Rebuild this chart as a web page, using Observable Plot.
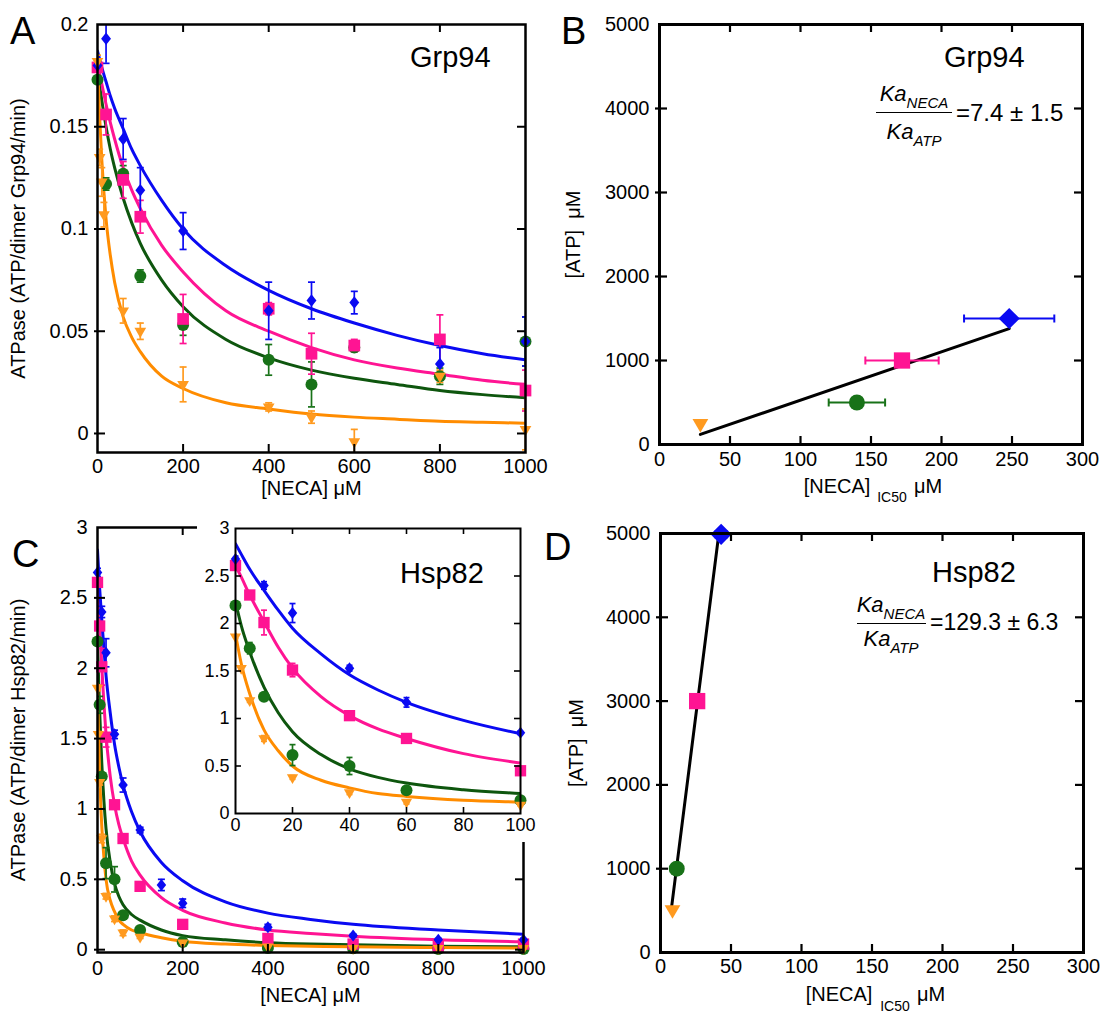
<!DOCTYPE html>
<html><head><meta charset="utf-8">
<script src="https://cdn.jsdelivr.net/npm/d3@7"></script>
<script src="https://cdn.jsdelivr.net/npm/@observablehq/plot@0.6"></script>
<style>
body{margin:0;background:#fff;}
#fig{position:relative;width:1102px;height:1018px;overflow:hidden;font-family:"Liberation Sans",Arial,Helvetica,sans-serif;color:#000;}
#fig svg{position:absolute;overflow:visible;}
.t{position:absolute;white-space:nowrap;line-height:1;}
.letter{font-size:38px;}
.ttl{font-size:29px;}
.fr{font-size:22px;text-align:center;font-style:italic;}
.fr span{font-size:15px;position:relative;top:7px;}
.fl{position:absolute;height:0;border-top:1.5px solid #000;}
.eq{font-size:24px;}
</style></head><body><div id="fig"></div>
<script>
// ---------- Panel A : Grp94 ATPase vs [NECA] ----------
const grpX = [0,20,60,100,200,400,500,600,800,1000];
const grpBlue = [0.180,0.193,0.144,0.119,0.099,0.060,0.065,0.064,0.034,0.045];
const grpBlueErr = [0.003,0.012,0.010,0.011,0.009,0.014,0.009,0.0055,0.008,0.012];
const grpPink = [0.179,0.156,0.124,0.106,0.056,0.061,0.039,0.043,0.046,0.021];
const grpPinkErr = [0.003,0.010,0.009,0.008,0.012,0.003,0.010,0.003,0.012,0.010];
const grpGreen = [0.173,0.122,0.127,0.077,0.053,0.036,0.024,0.042,0.028,0.045];
const grpGreenErr = [0.002,0.003,0.004,0.003,0.005,0.0075,0.011,0.002,0.004,0.012];
const grpOrangeX = [0,5,10,15,60,100,200,400,500,600,800,1000];
const grpOrange = [0.182,0.135,0.123,0.107,0.060,0.050,0.024,0.013,0.008,-0.004,0.028,0.002];
const grpOrangeErr = [0.003,0.004,0.007,0.006,0.006,0.004,0.0085,0.002,0.003,0.006,0.003,0.010];
const grpFitX = [0,5,10,20,30,40,60,80,100,150,200,300,400,500,600,700,800,900,1000];
const grpFitBlue = [0.187,0.183,0.179,0.172,0.165,0.159,0.149,0.139,0.131,0.114,0.100,0.082,0.070,0.061,0.054,0.048,0.043,0.039,0.036];
const grpFitPink = [0.182,0.176,0.171,0.161,0.152,0.144,0.130,0.119,0.110,0.092,0.079,0.060,0.050,0.042,0.036,0.032,0.029,0.026,0.024];
const grpFitGreen = [0.178,0.170,0.163,0.150,0.139,0.130,0.115,0.103,0.093,0.075,0.062,0.046,0.037,0.031,0.027,0.024,0.021,0.019,0.0175];
const grpFitOrange = [0.182,0.155,0.134,0.105,0.087,0.074,0.057,0.047,0.040,0.028,0.022,0.015,0.012,0.0095,0.008,0.007,0.006,0.0055,0.005];
const aXTicks = [0,200,400,600,800,1000];
const aYTicks = [0,0.05,0.1,0.15,0.2];

// ---------- Panel B : Grp94 [ATP] vs [NECA]IC50 ----------
const bNeca = [29,140,172,248];
const bAtp = [250,500,1000,1500];
const bNecaErr = [0,20,26,32];
const bFitNeca = [29,248];
const bFitAtp = [120,1380];

// ---------- Panel C : Hsp82 ATPase vs [NECA] ----------
const hspBlueX = [0,10,20,40,60,100,150,200,400,600,800,1000];
const hspBlue = [2.68,2.40,2.11,1.53,1.17,0.85,0.46,0.33,0.16,0.10,0.07,0.07];
const hspBlueErr = [0.03,0.04,0.10,0.03,0.05,0.02,0.04,0.03,0.02,0.01,0.01,0.01];
const hspX = [0,5,10,20,40,60,100,200,400,600,800,1000];
const hspPink = [2.61,2.30,2.01,1.51,1.03,0.79,0.45,0.18,0.08,0.04,0.025,0.04];
const hspPinkErr = [0.02,0.03,0.13,0.07,0.02,0.02,0.02,0.01,0.01,0.01,0.01,0.01];
const hspGreen = [2.19,1.74,1.23,0.615,0.50,0.245,0.14,0.055,0.012,0.01,0.005,0.005];
const hspGreenErr = [0.02,0.06,0.02,0.11,0.09,0.02,0.02,0.01,0.01,0.01,0.01,0.01];
const hspOrangeX = [0,2,5,10,20,40,60,100,200,400,600,800,1000];
const hspOrange = [1.86,1.53,1.19,0.79,0.38,0.22,0.12,0.09,0.05,0.02,0.01,0.01,0.01];
const hspOrangeErr = [0.02,0.02,0.02,0.03,0.02,0.02,0.02,0.01,0.01,0.01,0.01,0.01,0.01];
const hspFitX = [0,2,5,10,15,20,30,40,50,60,80,100,150,200,300,400,500,600,800,1000];
const hspFitBlue = [2.84,2.73,2.57,2.35,2.14,1.95,1.68,1.46,1.30,1.17,0.98,0.84,0.62,0.49,0.34,0.26,0.215,0.18,0.14,0.11];
const hspFitPink = [2.61,2.49,2.30,2.02,1.75,1.53,1.23,1.03,0.89,0.79,0.63,0.53,0.37,0.28,0.19,0.14,0.115,0.095,0.07,0.057];
const hspFitGreen = [2.23,1.98,1.70,1.33,1.06,0.86,0.62,0.47,0.38,0.32,0.25,0.21,0.14,0.10,0.07,0.05,0.04,0.035,0.025,0.02];
const hspFitOrange = [1.89,1.58,1.26,0.88,0.66,0.50,0.35,0.27,0.21,0.18,0.14,0.12,0.085,0.06,0.04,0.03,0.025,0.02,0.015,0.012];
const cXTicks = [0,200,400,600,800,1000];
const cYTicks = [0,0.5,1,1.5,2,2.5,3];
const insetXTicks = [0,20,40,60,80,100];

// ---------- Panel D : Hsp82 [ATP] vs [NECA]IC50 ----------
const dNeca = [8.5,11.5,26,43];
const dAtp = [510,1000,3000,4990];
const dNecaErr = [0,0,0,4];
const dFitNeca = [8,42];
const dFitAtp = [560,5080];
const bdXTicks = [0,50,100,150,200,250,300];
const bdYTicks = [0,1000,2000,3000,4000,5000];

// ---------- styling ----------
const FONT = '"Liberation Sans", Arial, Helvetica, sans-serif';
const BLUE = "#0a0af2", PINK = "#ff1493", GREEN = "#187218", GREENL = "#0e560e", ORANGE = "#ff9a1f", ORANGEL = "#ff8c00";

const downTri = {draw(c, s){const R=Math.sqrt(s/Math.PI)*1.3; c.moveTo(0,R); c.lineTo(R*0.866,-R*0.5); c.lineTo(-R*0.866,-R*0.5); c.closePath();}};
const rhomb = {draw(c, s){const a=Math.sqrt(s/Math.PI); c.moveTo(0,-a*1.2); c.lineTo(a*0.95,0); c.lineTo(0,a*1.2); c.lineTo(-a*0.95,0); c.closePath();}};
const hcap = {draw(c, s){const w=Math.sqrt(s/Math.PI); c.moveTo(-w,0); c.lineTo(w,0);}};
const vcap = {draw(c, s){const w=Math.sqrt(s/Math.PI); c.moveTo(0,-w); c.lineTo(0,w);}};

const rows = (xs, ys, es) => xs.map((x,i) => ({x, y: ys[i], e: es ? es[i] : 0}));
const pts = (xs, ys) => xs.map((x,i) => ({x, y: ys[i]}));
const fmt = d => String(d);

function frameTicks(xt, yt, xd, yd, iw, ih, len, out, sw) {
  const dx = len*(xd[1]-xd[0])/iw, dy = len*(yd[1]-yd[0])/ih, ox = out*(xd[1]-xd[0])/iw;
  const xi = xt.filter(v => v > xd[0] && v < xd[1]);
  const yi = yt.filter(v => v > yd[0] && v < yd[1]);
  const st = {stroke: "black", strokeWidth: sw};
  return [
    Plot.ruleX(xi, {x: d => d, y1: () => yd[0], y2: () => yd[0] + dy, ...st}),
    Plot.ruleX(xi, {x: d => d, y1: () => yd[1], y2: () => yd[1] - dy, ...st}),
    Plot.ruleY(yi, {y: d => d, x1: () => xd[0] - ox, x2: () => xd[0] + dx, ...st}),
    Plot.ruleY(yi, {y: d => d, x1: () => xd[1], x2: () => xd[1] - dx, ...st})
  ];
}

function curveMarks(series, sw) {
  return series.map(s => Plot.line(s.fit, {x: "x", y: "y", curve: "monotone-x", stroke: s.line, strokeWidth: sw, clip: true}));
}
function errMarks(series, cap, xmax) {
  const out = [];
  for (const s of series) {
    const p = s.pts.filter(d => d.e > 0 && d.x <= xmax);
    out.push(Plot.ruleX(p, {x: "x", y1: d => d.y - d.e, y2: d => d.y + d.e, stroke: s.color, strokeWidth: 1.7, clip: true}));
    out.push(Plot.dot(p, {x: "x", y: d => d.y + d.e, symbol: hcap, r: cap, stroke: s.color, strokeWidth: 1.7, clip: true}));
    out.push(Plot.dot(p, {x: "x", y: d => d.y - d.e, symbol: hcap, r: cap, stroke: s.color, strokeWidth: 1.7, clip: true}));
  }
  return out;
}
function dotMarks(series, xmax) {
  return series.map(s => Plot.dot(s.pts.filter(d => d.x <= xmax), {x: "x", y: "y", symbol: s.symbol, r: s.r, fill: s.color, stroke: "none"}));
}

const fig = document.getElementById("fig");
function place(svg, left, top, bg) {
  svg.style.left = left + "px"; svg.style.top = top + "px";
  if (bg) svg.style.background = bg;
  fig.appendChild(svg);
}
const baseStyle = {fontFamily: FONT, fontSize: "20px", color: "black", background: "none", overflow: "visible"};

// ===== Panel A =====
{
  const xd = [0,1000], yd = [-0.0093,0.2];
  const series = [
    {pts: rows(grpX, grpGreen, grpGreenErr), fit: pts(grpFitX, grpFitGreen), color: GREEN, line: GREENL, symbol: "circle", r: 6},
    {pts: rows(grpX, grpPink, grpPinkErr), fit: pts(grpFitX, grpFitPink), color: PINK, line: PINK, symbol: "square", r: 6.6},
    {pts: rows(grpX, grpBlue, grpBlueErr), fit: pts(grpFitX, grpFitBlue), color: BLUE, line: BLUE, symbol: rhomb, r: 5.2},
    {pts: rows(grpOrangeX, grpOrange, grpOrangeErr), fit: pts(grpFitX, grpFitOrange), color: ORANGE, line: ORANGEL, symbol: downTri, r: 5.2}
  ];
  const p = Plot.plot({
    width: 560, height: 500, marginLeft: 97, marginRight: 35, marginTop: 24, marginBottom: 48,
    x: {domain: xd}, y: {domain: yd}, style: baseStyle,
    marks: [
      ...curveMarks(series, 3),
      ...errMarks(series, 3.5, 1000),
      ...dotMarks(series, 1000),
      Plot.frame({stroke: "black", strokeWidth: 2.5}),
      ...frameTicks(aXTicks, aYTicks, xd, yd, 428, 428, 8, 3, 2),
      Plot.axisX({ticks: aXTicks, tickSize: 0, tickPadding: 6, tickFormat: fmt, fontSize: 20, label: null}),
      Plot.axisY({ticks: aYTicks, tickSize: 0, tickPadding: 9, tickFormat: fmt, fontSize: 20, label: null}),
      Plot.text(["[NECA] μM"], {frameAnchor: "bottom", dy: 42, fontSize: 20}),
      Plot.text(["ATPase (ATP/dimer Grp94/min)"], {frameAnchor: "left", textAnchor: "middle", dx: -79, rotate: -90, fontSize: 20})
    ]
  });
  place(p, 0, 0);
}

// ===== Panel B =====
{
  const xd = [0,300], yd = [0,5000];
  const pr = rows(bNeca, bAtp, bNecaErr).map((d,i) => ({...d, c: [ORANGE, GREEN, PINK, BLUE][i]}));
  const errs = pr.filter(d => d.e > 0);
  const p = Plot.plot({
    width: 542, height: 510, marginLeft: 99, marginRight: 20, marginTop: 24, marginBottom: 66,
    x: {domain: xd}, y: {domain: yd}, style: baseStyle,
    marks: [
      Plot.line(pts(bFitNeca, bFitAtp), {x: "x", y: "y", stroke: "black", strokeWidth: 3, clip: true}),
      Plot.ruleY(errs, {y: "y", x1: d => d.x - d.e, x2: d => d.x + d.e, stroke: d => d.c, strokeWidth: 2}),
      Plot.dot(errs, {x: d => d.x - d.e, y: "y", symbol: vcap, r: 4, stroke: d => d.c, strokeWidth: 2}),
      Plot.dot(errs, {x: d => d.x + d.e, y: "y", symbol: vcap, r: 4, stroke: d => d.c, strokeWidth: 2}),
      Plot.dot([pr[0]], {x: "x", y: "y", symbol: downTri, r: 7, fill: ORANGE}),
      Plot.dot([pr[1]], {x: "x", y: "y", symbol: "circle", r: 8, fill: GREEN}),
      Plot.dot([pr[2]], {x: "x", y: "y", symbol: "square", r: 9.2, fill: PINK}),
      Plot.dot([pr[3]], {x: "x", y: "y", symbol: "diamond2", r: 9.5, fill: BLUE}),
      Plot.frame({stroke: "black", strokeWidth: 3}),
      ...frameTicks(bdXTicks, bdYTicks, xd, yd, 423, 420, 8, 4, 2.2),
      Plot.axisX({ticks: bdXTicks, tickSize: 0, tickPadding: 7, tickFormat: fmt, fontSize: 20, label: null}),
      Plot.axisY({ticks: bdYTicks, tickSize: 0, tickPadding: 10, tickFormat: fmt, fontSize: 20, label: null}),
      Plot.text(["[NECA]"], {frameAnchor: "bottom", dx: -34, dy: 48, fontSize: 20}),
      Plot.text(["IC50"], {frameAnchor: "bottom", dx: 21, dy: 57, fontSize: 14}),
      Plot.text(["μM"], {frameAnchor: "bottom", dx: 57, dy: 48, fontSize: 20}),
      Plot.text(["[ATP]  μM"], {frameAnchor: "left", textAnchor: "middle", dx: -86, rotate: -90, fontSize: 20})
    ]
  });
  place(p, 560, 0);
}

// ===== Panel C =====
const hspSeries = [
  {pts: rows(hspX, hspGreen, hspGreenErr), fit: pts(hspFitX, hspFitGreen), color: GREEN, line: GREENL, symbol: "circle", r: 6},
  {pts: rows(hspX, hspPink, hspPinkErr), fit: pts(hspFitX, hspFitPink), color: PINK, line: PINK, symbol: "square", r: 6.4},
  {pts: rows(hspBlueX, hspBlue, hspBlueErr), fit: pts(hspFitX, hspFitBlue), color: BLUE, line: BLUE, symbol: rhomb, r: 5},
  {pts: rows(hspOrangeX, hspOrange, hspOrangeErr), fit: pts(hspFitX, hspFitOrange), color: ORANGE, line: ORANGEL, symbol: downTri, r: 5}
];
{
  const xd = [0,1000], yd = [-0.02,3];
  const p = Plot.plot({
    width: 560, height: 518, marginLeft: 97, marginRight: 37, marginTop: 27, marginBottom: 66,
    x: {domain: xd}, y: {domain: yd}, style: baseStyle,
    marks: [
      ...curveMarks(hspSeries, 3),
      ...errMarks(hspSeries, 3.5, 1000),
      ...dotMarks(hspSeries, 1000),
      Plot.frame({stroke: "black", strokeWidth: 2.5}),
      ...frameTicks(cXTicks, cYTicks, xd, yd, 426, 425, 8, 3, 2),
      Plot.axisX({ticks: cXTicks, tickSize: 0, tickPadding: 8, tickFormat: fmt, fontSize: 20, label: null}),
      Plot.axisY({ticks: cYTicks, tickSize: 0, tickPadding: 10, tickFormat: fmt, fontSize: 20, label: null}),
      Plot.text(["[NECA] μM"], {frameAnchor: "bottom", dy: 49, fontSize: 20}),
      Plot.text(["ATPase (ATP/dimer Hsp82/min)"], {frameAnchor: "left", textAnchor: "middle", dx: -79, rotate: -90, fontSize: 20})
    ]
  });
  place(p, 0, 500);
}
// ----- inset of C -----
{
  const xd = [0,100], yd = [0,3];
  const p = Plot.plot({
    width: 340, height: 337, marginLeft: 38, marginRight: 17, marginTop: 23, marginBottom: 29,
    x: {domain: xd}, y: {domain: yd}, style: {...baseStyle, fontSize: "18px"},
    marks: [
      ...curveMarks(hspSeries, 3),
      ...errMarks(hspSeries, 3, 100),
      ...dotMarks(hspSeries, 100),
      Plot.frame({stroke: "black", strokeWidth: 2}),
      ...frameTicks(insetXTicks, cYTicks, xd, yd, 285, 285, 6, 0, 1.6),
      Plot.axisX({ticks: insetXTicks, tickSize: 0, tickPadding: 5, tickFormat: fmt, fontSize: 18, label: null}),
      Plot.axisY({ticks: cYTicks, tickSize: 0, tickPadding: 6, tickFormat: fmt, fontSize: 18, label: null})
    ]
  });
  place(p, 197, 505, "#fff");
}

// ===== Panel D =====
{
  const xd = [0,300], yd = [0,5000];
  const pr = rows(dNeca, dAtp, dNecaErr).map((d,i) => ({...d, c: [ORANGE, GREEN, PINK, BLUE][i]}));
  const errs = pr.filter(d => d.e > 0);
  const p = Plot.plot({
    width: 542, height: 518, marginLeft: 100, marginRight: 19, marginTop: 33, marginBottom: 66,
    x: {domain: xd}, y: {domain: yd}, style: baseStyle,
    marks: [
      Plot.line(pts(dFitNeca, dFitAtp), {x: "x", y: "y", stroke: "black", strokeWidth: 3, clip: true}),
      Plot.ruleY(errs, {y: "y", x1: d => d.x - d.e, x2: d => d.x + d.e, stroke: d => d.c, strokeWidth: 2}),
      Plot.dot(errs, {x: d => d.x - d.e, y: "y", symbol: vcap, r: 4, stroke: d => d.c, strokeWidth: 2}),
      Plot.dot(errs, {x: d => d.x + d.e, y: "y", symbol: vcap, r: 4, stroke: d => d.c, strokeWidth: 2}),
      Plot.dot([pr[0]], {x: "x", y: "y", symbol: downTri, r: 7, fill: ORANGE}),
      Plot.dot([pr[1]], {x: "x", y: "y", symbol: "circle", r: 8, fill: GREEN}),
      Plot.dot([pr[2]], {x: "x", y: "y", symbol: "square", r: 9.2, fill: PINK}),
      Plot.dot([pr[3]], {x: "x", y: "y", symbol: "diamond2", r: 9.5, fill: BLUE}),
      Plot.frame({stroke: "black", strokeWidth: 3}),
      ...frameTicks(bdXTicks, bdYTicks, xd, yd, 423, 419, 8, 4, 2.2),
      Plot.axisX({ticks: bdXTicks, tickSize: 0, tickPadding: 6, tickFormat: fmt, fontSize: 20, label: null}),
      Plot.axisY({ticks: bdYTicks, tickSize: 0, tickPadding: 10, tickFormat: fmt, fontSize: 20, label: null}),
      Plot.text(["[NECA]"], {frameAnchor: "bottom", dx: -33, dy: 48, fontSize: 20}),
      Plot.text(["IC50"], {frameAnchor: "bottom", dx: 23, dy: 58, fontSize: 14}),
      Plot.text(["μM"], {frameAnchor: "bottom", dx: 59, dy: 48, fontSize: 20}),
      Plot.text(["[ATP]  μM"], {frameAnchor: "left", textAnchor: "middle", dx: -84, rotate: -90, fontSize: 20})
    ]
  });
  place(p, 560, 500);
}

// ---------- annotations ----------
function addText(cls, html, left, top, extra) {
  const d = document.createElement("div");
  d.className = "t " + cls; d.innerHTML = html;
  d.style.left = left + "px"; d.style.top = top + "px";
  if (extra) Object.assign(d.style, extra);
  fig.appendChild(d);
}
function addLine(left, top, width) {
  const d = document.createElement("div");
  d.className = "fl"; d.style.left = left + "px"; d.style.top = top + "px"; d.style.width = width + "px";
  fig.appendChild(d);
}
addText("letter", "A", 10, 12);
addText("letter", "B", 561, 12);
addText("letter", "C", 12, 535);
addText("letter", "D", 544, 528);
addText("ttl", "Grp94", 410, 43);
addText("ttl", "Grp94", 944, 43);
addText("ttl", "Hsp82", 400, 559);
addText("ttl", "Hsp82", 932, 558);
// fraction B
addText("fr", "Ka<span>NECA</span>", 870, 83, {width: "88px"});
addLine(876, 112, 76);
addText("fr", "Ka<span>ATP</span>", 870, 121, {width: "88px"});
addText("eq", "=7.4 ± 1.5", 956, 101);
// fraction D
addText("fr", "Ka<span>NECA</span>", 847, 594, {width: "88px"});
addLine(857, 623, 69);
addText("fr", "Ka<span>ATP</span>", 847, 628, {width: "88px"});
addText("eq", "=129.3 ± 6.3", 930, 611, {fontSize: "23px"});
</script>
</body></html>
